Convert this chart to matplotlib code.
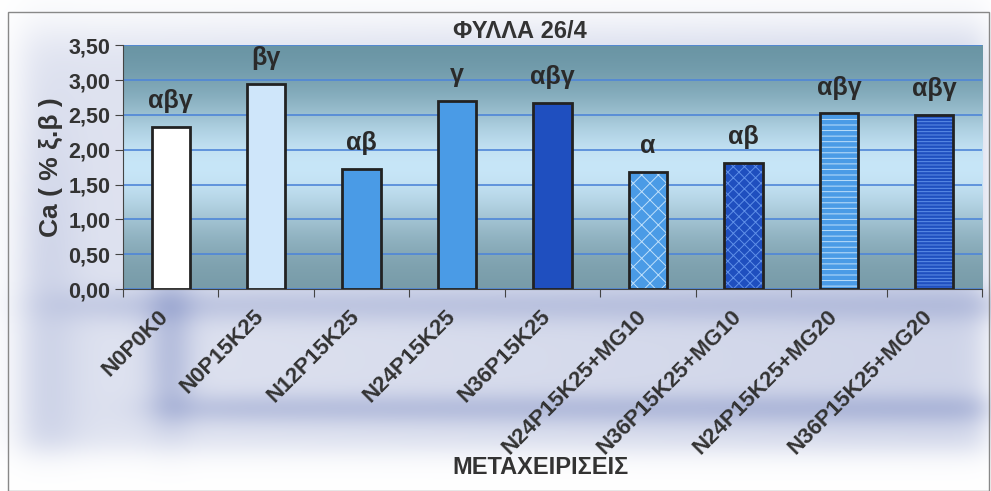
import numpy as np
import matplotlib.pyplot as plt
from matplotlib.patches import Rectangle

plt.rcParams['font.family'] = ['Liberation Sans', 'DejaVu Sans']
plt.rcParams['hatch.linewidth'] = 0.7

# Data
treatments = ['N0P0K0', 'N0P15K25', 'N12P15K25', 'N24P15K25', 'N36P15K25',
              'N24P15K25+MG10', 'N36P15K25+MG10', 'N24P15K25+MG20', 'N36P15K25+MG20']
ca_values = [2.32, 2.94, 1.72, 2.70, 2.67, 1.68, 1.81, 2.52, 2.50]
letters = ['αβγ', 'βγ', 'αβ', 'γ', 'αβγ', 'α', 'αβ', 'αβγ', 'αβγ']
yticks = [0.0, 0.5, 1.0, 1.5, 2.0, 2.5, 3.0, 3.5]

bar_colors = ['#ffffff', '#cfe6fa', '#4a9be6', '#4a9be6', '#1f4fbf',
              '#4a9be6', '#1f4fbf', '#4a9be6', '#1f4fbf']
hatches = [None, None, None, None, None, 'xx', 'xxx', '---', '-----']
hatch_colors = [None, None, None, None, None, '#bfe0fb', '#5f90e8', '#bfe0fb', '#5f90e8']

W, H = 991, 491
fig = plt.figure(figsize=(W / 100, H / 100), dpi=100)

# Figure background: soft blue blurred frame around the tick label area
bg = fig.add_axes([0, 0, 1, 1], zorder=-10)
py, px = np.mgrid[0:H, 0:W].astype(float)


def sig(v, s):
    return 1 / (1 + np.exp(-v / s))


box = sig(px - 22, 10) * sig(985 - px, 8) * sig(py - 30, 14) * sig(450 - py, 8)
shade = 0.20 * box
shade += 0.12 * box * (px / W)
shade += 0.22 * np.exp(-((py - 408) / 16) ** 2) * sig(px - 165, 20) * sig(990 - px, 10)
shade += 0.25 * np.exp(-((px - 170) / 24) ** 2) * sig(py - 280, 15) * sig(420 - py, 15)
shade += 0.18 * np.exp(-((py - 305) / 18) ** 2) * sig(px - 60, 25)
shade += 0.12 * np.exp(-((px - 45) / 35) ** 2) * sig(py - 150, 50) * sig(450 - py, 10)
shade = np.clip(shade, 0, 0.7)
white = np.array([1.0, 1.0, 1.0])
blue = np.array([0.40, 0.47, 0.72])
img = white * (1 - shade[..., None]) + blue * shade[..., None]
bg.imshow(img, extent=[0, 1, 0, 1], origin='upper', aspect='auto')
bg.add_patch(Rectangle((8 / W, 0.0), (W - 10) / W, 1 - 12 / H, fill=False,
                       edgecolor='#888888', linewidth=1.0))
bg.set_xlim(0, 1)
bg.set_ylim(0, 1)
bg.axis('off')

ax = fig.add_axes([0.124, 0.411, 0.867, 0.497])

# Plot area gradient: dark at top and bottom, light blue in middle
grad = np.linspace(0, 1, 256)
top_c = np.array([0.40, 0.57, 0.63])
mid_c = np.array([0.78, 0.90, 0.97])
bot_c = np.array([0.46, 0.60, 0.65])
w = np.exp(-((grad - 0.5) / 0.28) ** 2)
cols = np.where(grad[:, None] > 0.5,
                top_c * (1 - w[:, None]) + mid_c * w[:, None],
                bot_c * (1 - w[:, None]) + mid_c * w[:, None])
ax.imshow(cols[:, None, :], extent=[-0.5, len(treatments) - 0.5, 0, 3.5],
          origin='lower', aspect='auto', zorder=0)

x = np.arange(len(treatments))
ax.set_axisbelow(True)
ax.yaxis.grid(True, color='#4f86d8', linewidth=1.2, zorder=1)

for i, v in enumerate(ca_values):
    ax.bar(x[i], v, width=0.4, color=bar_colors[i], edgecolor='none', zorder=2)
    if hatches[i]:
        ax.bar(x[i], v, width=0.4, color='none', edgecolor=hatch_colors[i],
               hatch=hatches[i], linewidth=0, zorder=3)
    ax.bar(x[i], v, width=0.4, color='none', edgecolor='#222222', linewidth=2.0, zorder=4)
    ax.text(x[i], v + 0.2, letters[i], ha='center', va='bottom',
            fontsize=18, fontweight='bold', color='#2a2a2a')

ax.set_xlim(-0.5, len(treatments) - 0.5)
ax.set_ylim(0, 3.5)
ax.set_yticks(yticks)
ax.set_yticklabels([f'{t:.2f}'.replace('.', ',') for t in yticks],
                   fontsize=15.5, fontweight='bold', color='#333333')
ax.set_xticks(np.arange(len(treatments) + 1) - 0.5, minor=False)
ax.set_xticklabels([])
# label anchors sit slightly left of the bar centres, as in the original
ax.set_xticks(x - 0.13, minor=True)
ax.set_xticklabels(treatments, minor=True, rotation=45, ha='right',
                   rotation_mode='anchor', fontsize=16, fontweight='bold', color='#333333')
ax.tick_params(axis='x', which='minor', length=0, pad=12)
ax.tick_params(axis='x', which='major', length=6, color='#444444')
ax.tick_params(axis='y', length=6, color='#444444', pad=3)
for s in ['top', 'right']:
    ax.spines[s].set_visible(False)
ax.spines['left'].set_color('#444444')
ax.spines['bottom'].set_color('#444444')

ax.set_ylabel('Ca ( % ξ.β )', fontsize=19, fontweight='bold', color='#333333', labelpad=4)
fig.text(0.525, 0.935, 'ΦΥΛΛΑ 26/4', ha='center', va='center',
         fontsize=17, fontweight='bold', color='#333333')
fig.text(0.545, 0.048, 'ΜΕΤΑΧΕΙΡΙΣΕΙΣ', ha='center', va='center',
         fontsize=17, fontweight='bold', color='#333333')

fig.savefig('out.png', dpi=100)
